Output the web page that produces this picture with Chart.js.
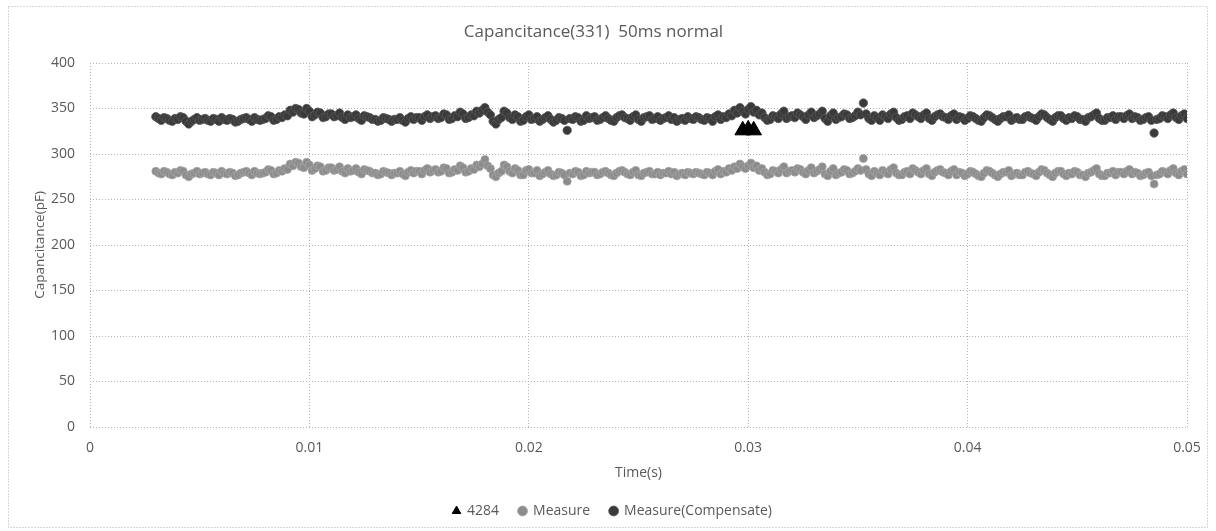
<!DOCTYPE html>
<html>
<head>
<meta charset="utf-8">
<script src="https://cdn.jsdelivr.net/npm/chart.js@4.4.1/dist/chart.umd.min.js"></script>
<style>
html,body{margin:0;padding:0;background:#fff;}
#wrap{width:1216px;height:531px;position:relative;}
</style>
</head>
<body>
<div id="wrap"><canvas id="c" width="1216" height="531"></canvas></div>
<script>
// ---- data ----
const chartTitle = "Capancitance(331)  50ms normal";
const xTitle = "Time(s)";
const yTitle = "Capancitance(pF)";
const xTicks = [0, 0.01, 0.02, 0.03, 0.04, 0.05];
const yTicks = [0, 50, 100, 150, 200, 250, 300, 350, 400];

// sampling times: start 0.003 s, every 0.000125 s up to 0.05 s
const tStart = 0.003;
const tStep = 0.000125;

const measure = [
281,279,278,281,280,278,277,280,279,282,281,277,275,278,279,281,278,279,280,278,277,280,279,277,281,279,278,280,279,276,277,279,280,281,279,277,281,279,278,279,
280,283,282,278,279,282,281,284,283,289,287,291,290,286,285,291,288,282,284,287,286,281,282,285,285,282,283,286,281,279,284,281,282,284,280,278,283,282,281,279,
279,277,278,281,280,279,277,279,279,281,278,276,280,282,279,281,281,278,282,284,280,282,283,280,281,285,284,279,280,283,282,287,285,280,281,284,283,288,286,289,
294,287,284,277,275,279,281,288,286,281,279,284,282,277,277,282,283,279,279,282,276,278,280,282,278,276,277,280,279,277,270,279,278,281,280,276,277,281,279,280,
280,277,278,280,281,279,277,276,279,281,282,280,278,277,280,282,277,276,279,280,281,278,278,280,277,279,279,281,278,280,276,278,279,277,280,279,278,280,279,278,
277,280,279,277,281,283,278,281,280,284,282,286,284,289,286,284,287,290,285,287,282,284,280,277,278,282,281,279,283,286,279,281,282,280,284,283,280,278,282,285,
279,281,283,286,278,276,281,284,277,279,280,283,282,278,279,281,284,282,295,283,278,276,281,279,277,282,280,278,283,285,279,277,277,280,281,278,284,282,280,278,
282,284,278,276,280,282,283,280,279,277,281,283,277,280,279,276,278,281,280,278,276,275,279,282,281,279,277,275,278,280,280,282,276,278,279,277,277,280,281,279,
278,276,280,283,282,279,277,275,279,281,281,278,276,279,278,281,280,277,277,275,279,280,282,284,278,276,276,279,279,281,277,280,280,278,281,283,278,280,279,276,
277,279,280,276,267,277,278,281,280,278,282,284,279,277,281,283,278
];

const compensate = [
341,339,337,340,339,337,336,339,338,341,340,336,333,336,338,340,337,338,339,337,336,339,338,336,340,338,337,339,338,335,336,338,339,340,338,336,340,338,337,338,
339,342,341,337,338,341,340,343,342,348,346,350,349,345,344,350,347,341,343,346,345,340,341,344,344,341,342,345,340,338,343,340,341,343,339,337,342,341,340,338,
338,336,337,340,339,338,336,338,338,340,337,335,339,341,338,340,340,337,341,343,339,341,342,339,340,344,343,338,339,342,341,346,344,339,340,343,342,347,345,348,
351,346,343,336,333,338,340,347,345,340,338,343,341,336,337,341,343,338,339,341,336,338,340,342,338,335,337,340,339,337,326,339,338,341,340,336,337,342,339,340,
341,337,338,340,342,339,337,336,340,342,343,340,339,337,341,343,338,336,340,341,342,338,339,341,337,339,340,342,338,340,336,338,339,337,341,339,338,341,340,338,
337,340,339,336,341,343,338,341,340,344,342,348,345,351,347,344,349,352,346,348,343,345,340,337,338,342,341,339,344,347,339,341,342,340,345,343,341,338,343,346,
340,342,344,347,339,336,342,345,338,340,341,344,343,339,340,342,346,343,356,344,339,337,342,340,337,343,341,339,344,346,340,337,338,341,342,339,345,343,341,339,
343,345,339,337,341,343,344,341,340,338,342,344,338,341,340,337,339,342,341,339,337,336,340,343,342,340,338,336,339,341,341,343,337,339,340,338,338,341,342,340,
339,337,341,344,343,340,338,336,340,342,342,339,337,340,339,342,341,338,338,336,340,341,343,345,339,337,337,340,340,342,338,341,341,339,342,344,339,341,340,337,
338,340,341,337,323,338,339,342,341,339,343,345,340,338,342,344,339
];

const ref4284X = [0.02975, 0.0300, 0.03025];
const ref4284Y = [326, 327, 326];

// ---- build library data ----
function toPoints(vals){ return vals.map((v,i)=>({x: +(tStart + i*tStep).toFixed(6), y: v})); }
const refPoints = ref4284X.map((x,i)=>({x:x, y:ref4284Y[i]}));

const FONT = "'Open Sans', 'Noto Sans', sans-serif";
const TXT = "#595959";
const GRID = "#b4b4b4";

const framePlugin = {
  id:'frame',
  beforeDraw(chart){
    const ctx = chart.ctx;
    ctx.save();
    ctx.fillStyle = '#fff';
    ctx.fillRect(0,0,chart.width,chart.height);
    ctx.strokeStyle = '#b0b0b0';
    ctx.lineWidth = 1;
    ctx.setLineDash([1,2]);
    ctx.strokeRect(8.5, 6.5, 1199, 521);
    ctx.restore();
  },
  afterLayout(chart){
    if (chart.legend) { chart.legend.left += 19; chart.legend.right += 19; }
  }
};

new Chart(document.getElementById('c'), {
  type: 'scatter',
  data: {
    datasets: [
      { label: '4284', data: refPoints, pointStyle: 'triangle', pointRadius: 9,
        backgroundColor: '#000', borderColor: '#000', borderWidth: 1, order: 0 },
      { label: 'Measure', data: toPoints(measure), pointStyle: 'circle', pointRadius: 4,
        backgroundColor: '#8c8c8c', borderColor: '#a6a6a6', borderWidth: 0.8, order: 2 },
      { label: 'Measure(Compensate)', data: toPoints(compensate), pointStyle: 'circle', pointRadius: 4.2,
        backgroundColor: '#3a3a3a', borderColor: '#585858', borderWidth: 0.8, order: 1 }
    ]
  },
  options: {
    responsive: false,
    animation: false,
    devicePixelRatio: 1,
    layout: { padding: { left: 0, right: 29, top: 0, bottom: 3 } },
    plugins: {
      title: { display: true, text: chartTitle, color: TXT,
        font: { family: FONT, size: 17, weight: 'normal' },
        padding: { top: 21.8, bottom: 20.8 } },
      legend: { position: 'bottom',
        labels: { color: TXT, font: { family: FONT, size: 14 }, usePointStyle: true,
          boxWidth: 7, boxHeight: 7, padding: 20,
          sort: (a, b) => a.datasetIndex - b.datasetIndex } },
      tooltip: { enabled: false }
    },
    scales: {
      x: { type: 'linear', min: 0, max: 0.05,
        afterFit(s){ s.height = 57; },
        afterBuildTicks(s){ s.ticks = xTicks.map(v=>({value:v})); },
        ticks: { color: TXT, font: { family: FONT, size: 14 }, padding: 12.6,
          callback: v => String(v) },
        grid: { color: GRID, drawTicks: false, lineWidth: 1 },
        border: { display: false, dash: [1,2] },
        title: { display: true, text: xTitle, color: TXT, font: { family: FONT, size: 14 },
          padding: { top: 0, bottom: 2.6 } }
      },
      y: { type: 'linear', min: 0, max: 400,
        afterFit(s){ s.width = 90; },
        afterBuildTicks(s){ s.ticks = yTicks.map(v=>({value:v})); },
        ticks: { color: TXT, font: { family: FONT, size: 14 }, padding: 15 },
        grid: { color: GRID, drawTicks: false, lineWidth: 1 },
        border: { display: false, dash: [1,2] },
        title: { display: true, text: yTitle, color: TXT, font: { family: FONT, size: 13.5 },
          padding: { top: 31.8, bottom: 0 } }
      }
    }
  },
  plugins: [framePlugin]
});
</script>
</body>
</html>
